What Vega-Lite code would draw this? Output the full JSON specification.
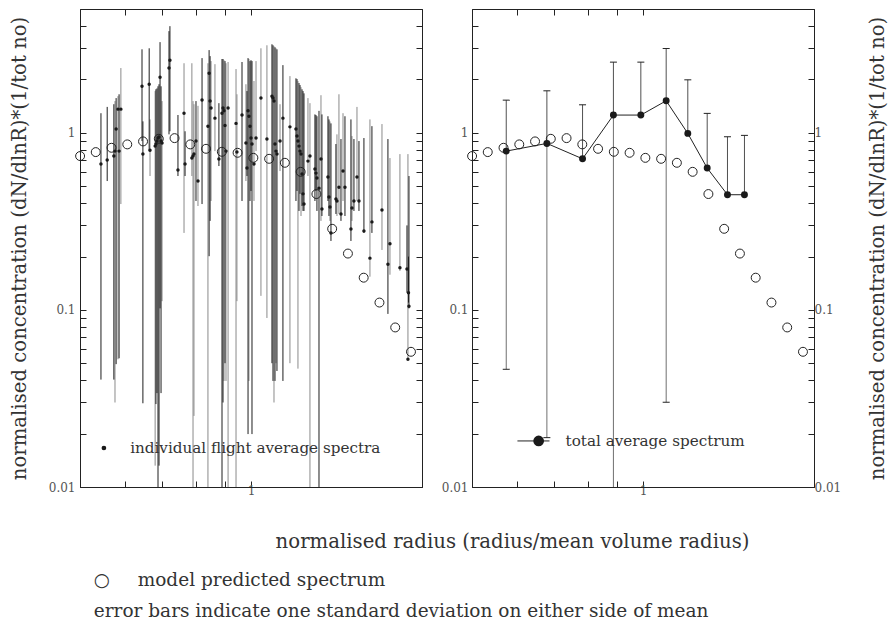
{
  "$schema": "https://vega.github.io/schema/vega-lite/v6.json",
  "background": "white",
  "padding": {"left": 8, "top": 8, "right": 2, "bottom": 2},
  "config": {
    "font": "DejaVu Serif",
    "view": {"stroke": "#222", "strokeWidth": 1},
    "axis": {"domain": true, "domainColor": "#222", "domainWidth": 1, "grid": false, "ticks": true, "tickColor": "#222", "tickWidth": 1, "tickSize": -6, "labelColor": "#555", "labelFont": "DejaVu Serif", "labelFontSize": 12, "titleFont": "DejaVu Serif", "titleFontWeight": "normal", "titleColor": "#333", "titleFontSize": 19.7},
    "title": {"font": "DejaVu Serif", "fontWeight": "normal", "color": "#333", "fontSize": 18.5}
  },
  "datasets": {
    "flights": [
      {"x":0.262,"y":0.666,"lo":0.0404,"hi":1.29,"g":"k"},
      {"x":0.277,"y":0.702,"lo":0.534,"hi":1.40,"g":"k"},
      {"x":0.294,"y":0.739,"lo":0.0404,"hi":1.45,"g":"k"},
      {"x":0.297,"y":0.788,"lo":0.030,"hi":1.51,"g":"g"},
      {"x":0.300,"y":1.05,"lo":0.0494,"hi":1.57,"g":"k"},
      {"x":0.305,"y":1.36,"lo":0.0526,"hi":1.61,"g":"g"},
      {"x":0.308,"y":0.788,"lo":0.0533,"hi":1.65,"g":"k"},
      {"x":0.313,"y":1.36,"lo":0.396,"hi":2.32,"g":"g"},
      {"x":0.378,"y":1.83,"lo":0.898,"hi":2.96,"g":"k"},
      {"x":0.381,"y":0.758,"lo":0.0297,"hi":1.16,"g":"k"},
      {"x":0.403,"y":1.88,"lo":0.788,"hi":3.00,"g":"k"},
      {"x":0.406,"y":0.798,"lo":0.570,"hi":1.19,"g":"g"},
      {"x":0.425,"y":0.841,"lo":0.0132,"hi":1.72,"g":"g"},
      {"x":0.428,"y":0.864,"lo":0.0294,"hi":1.76,"g":"k"},
      {"x":0.432,"y":0.898,"lo":0.0339,"hi":1.78,"g":"k"},
      {"x":0.436,"y":0.934,"lo":0.004,"hi":1.83,"g":"k"},
      {"x":0.440,"y":0.946,"lo":0.0132,"hi":1.88,"g":"k"},
      {"x":0.444,"y":2.06,"lo":0.102,"hi":3.25,"g":"k"},
      {"x":0.448,"y":0.898,"lo":0.0339,"hi":1.83,"g":"k"},
      {"x":0.452,"y":0.875,"lo":0.112,"hi":1.51,"g":"g"},
      {"x":0.481,"y":2.32,"lo":0.98,"hi":3.75,"g":"k"},
      {"x":0.485,"y":2.57,"lo":1.02,"hi":4.00,"g":"k"},
      {"x":0.521,"y":0.616,"lo":0.570,"hi":1.26,"g":"k"},
      {"x":0.550,"y":1.29,"lo":0.272,"hi":2.47,"g":"g"},
      {"x":0.555,"y":0.666,"lo":0.570,"hi":1.02,"g":"k"},
      {"x":0.596,"y":0.739,"lo":0.004,"hi":1.51,"g":"g"},
      {"x":0.590,"y":0.720,"lo":0.570,"hi":2.47,"g":"g"},
      {"x":0.601,"y":0.758,"lo":0.0252,"hi":1.45,"g":"g"},
      {"x":0.612,"y":0.898,"lo":0.412,"hi":1.51,"g":"k"},
      {"x":0.623,"y":0.534,"lo":0.386,"hi":1.42,"g":"g"},
      {"x":0.646,"y":1.53,"lo":0.396,"hi":2.64,"g":"k"},
      {"x":0.681,"y":1.09,"lo":0.004,"hi":2.47,"g":"g"},
      {"x":0.688,"y":2.17,"lo":0.201,"hi":2.93,"g":"k"},
      {"x":0.694,"y":1.51,"lo":0.318,"hi":2.71,"g":"k"},
      {"x":0.700,"y":1.38,"lo":0.412,"hi":2.54,"g":"g"},
      {"x":0.725,"y":1.21,"lo":0.788,"hi":2.44,"g":"g"},
      {"x":0.751,"y":0.711,"lo":0.649,"hi":1.47,"g":"k"},
      {"x":0.772,"y":1.29,"lo":0.004,"hi":2.61,"g":"k"},
      {"x":0.779,"y":1.38,"lo":0.030,"hi":2.61,"g":"k"},
      {"x":0.786,"y":1.33,"lo":0.0397,"hi":2.57,"g":"g"},
      {"x":0.793,"y":1.10,"lo":0.050,"hi":2.54,"g":"k"},
      {"x":0.800,"y":0.788,"lo":0.0397,"hi":2.47,"g":"g"},
      {"x":0.815,"y":1.38,"lo":0.004,"hi":2.51,"g":"g"},
      {"x":0.875,"y":1.13,"lo":0.004,"hi":2.29,"g":"g"},
      {"x":0.882,"y":0.778,"lo":0.112,"hi":1.65,"g":"g"},
      {"x":0.923,"y":1.26,"lo":0.412,"hi":2.51,"g":"k"},
      {"x":0.956,"y":0.875,"lo":0.534,"hi":1.88,"g":"g"},
      {"x":0.965,"y":0.632,"lo":0.570,"hi":1.72,"g":"k"},
      {"x":0.974,"y":1.33,"lo":0.0199,"hi":2.64,"g":"k"},
      {"x":0.982,"y":1.24,"lo":0.0397,"hi":2.61,"g":"g"},
      {"x":0.991,"y":1.09,"lo":0.412,"hi":2.54,"g":"k"},
      {"x":1.000,"y":0.934,"lo":0.469,"hi":2.57,"g":"k"},
      {"x":1.009,"y":0.864,"lo":0.0199,"hi":2.54,"g":"k"},
      {"x":1.027,"y":0.666,"lo":0.412,"hi":1.96,"g":"g"},
      {"x":1.046,"y":0.934,"lo":0.788,"hi":2.54,"g":"g"},
      {"x":1.093,"y":1.57,"lo":0.120,"hi":3.00,"g":"g"},
      {"x":1.153,"y":0.922,"lo":0.090,"hi":3.12,"g":"g"},
      {"x":1.206,"y":1.61,"lo":0.050,"hi":3.16,"g":"k"},
      {"x":1.217,"y":1.57,"lo":0.0397,"hi":3.12,"g":"k"},
      {"x":1.228,"y":1.51,"lo":0.030,"hi":3.08,"g":"g"},
      {"x":1.239,"y":0.864,"lo":0.0397,"hi":3.04,"g":"k"},
      {"x":1.250,"y":0.788,"lo":0.050,"hi":3.00,"g":"g"},
      {"x":1.261,"y":0.758,"lo":0.0452,"hi":2.96,"g":"k"},
      {"x":1.296,"y":0.898,"lo":0.608,"hi":1.45,"g":"g"},
      {"x":1.330,"y":1.21,"lo":0.0397,"hi":2.41,"g":"k"},
      {"x":1.416,"y":1.08,"lo":0.050,"hi":2.09,"g":"g"},
      {"x":1.494,"y":1.05,"lo":0.412,"hi":2.03,"g":"k"},
      {"x":1.508,"y":0.958,"lo":0.469,"hi":2.01,"g":"k"},
      {"x":1.521,"y":0.898,"lo":0.0466,"hi":1.96,"g":"g"},
      {"x":1.535,"y":0.841,"lo":0.362,"hi":1.91,"g":"k"},
      {"x":1.549,"y":0.788,"lo":0.452,"hi":1.86,"g":"k"},
      {"x":1.563,"y":0.758,"lo":0.339,"hi":1.81,"g":"g"},
      {"x":1.577,"y":0.585,"lo":0.386,"hi":1.76,"g":"k"},
      {"x":1.591,"y":0.452,"lo":0.362,"hi":1.72,"g":"k"},
      {"x":1.605,"y":0.396,"lo":0.362,"hi":1.67,"g":"k"},
      {"x":1.663,"y":0.692,"lo":0.570,"hi":1.57,"g":"g"},
      {"x":1.693,"y":0.739,"lo":0.004,"hi":1.47,"g":"g"},
      {"x":1.770,"y":0.624,"lo":0.412,"hi":1.27,"g":"k"},
      {"x":1.786,"y":0.592,"lo":0.469,"hi":1.26,"g":"k"},
      {"x":1.802,"y":0.556,"lo":0.362,"hi":1.24,"g":"k"},
      {"x":1.835,"y":0.487,"lo":0.004,"hi":1.33,"g":"k"},
      {"x":1.868,"y":0.711,"lo":0.318,"hi":1.63,"g":"g"},
      {"x":1.884,"y":0.371,"lo":0.339,"hi":1.27,"g":"k"},
      {"x":1.988,"y":0.563,"lo":0.412,"hi":1.24,"g":"k"},
      {"x":2.006,"y":0.434,"lo":0.339,"hi":1.19,"g":"k"},
      {"x":2.024,"y":0.381,"lo":0.318,"hi":1.16,"g":"g"},
      {"x":2.042,"y":0.272,"lo":0.245,"hi":1.13,"g":"k"},
      {"x":2.135,"y":0.423,"lo":0.348,"hi":0.864,"g":"k"},
      {"x":2.154,"y":0.412,"lo":0.339,"hi":0.98,"g":"g"},
      {"x":2.193,"y":0.493,"lo":0.348,"hi":1.65,"g":"g"},
      {"x":2.233,"y":0.348,"lo":0.318,"hi":0.922,"g":"k"},
      {"x":2.274,"y":0.608,"lo":0.412,"hi":1.29,"g":"g"},
      {"x":2.314,"y":0.493,"lo":0.339,"hi":1.24,"g":"k"},
      {"x":2.441,"y":0.286,"lo":0.245,"hi":1.19,"g":"k"},
      {"x":2.463,"y":0.376,"lo":0.318,"hi":0.958,"g":"g"},
      {"x":2.507,"y":0.412,"lo":0.362,"hi":0.922,"g":"k"},
      {"x":2.576,"y":0.563,"lo":0.412,"hi":1.40,"g":"g"},
      {"x":2.622,"y":0.412,"lo":0.362,"hi":0.898,"g":"k"},
      {"x":2.741,"y":0.279,"lo":0.272,"hi":0.934,"g":"k"},
      {"x":2.892,"y":0.196,"lo":0.154,"hi":1.19,"g":"g"},
      {"x":2.944,"y":0.314,"lo":0.272,"hi":1.09,"g":"k"},
      {"x":3.220,"y":0.366,"lo":0.218,"hi":1.12,"g":"g"},
      {"x":3.396,"y":0.181,"lo":0.0949,"hi":0.922,"g":"k"},
      {"x":3.458,"y":0.236,"lo":0.158,"hi":0.720,"g":"g"},
      {"x":3.780,"y":0.173,"lo":0.166,"hi":0.758,"g":"g"},
      {"x":4.025,"y":0.170,"lo":0.125,"hi":0.30,"g":"k"},
      {"x":4.060,"y":0.0526,"lo":0.052,"hi":0.758,"g":"g"},
      {"x":4.080,"y":0.125,"lo":0.11,"hi":0.20,"g":"k"},
      {"x":4.097,"y":0.105,"lo":0.102,"hi":0.570,"g":"k"}
    ],
    "model": [
      {"x":0.2175,"y":0.739},{"x":0.2501,"y":0.778},{"x":0.2879,"y":0.823},{"x":0.3314,"y":0.860},
      {"x":0.3815,"y":0.894},{"x":0.4391,"y":0.925},{"x":0.5054,"y":0.933},{"x":0.5817,"y":0.860},
      {"x":0.6696,"y":0.812},{"x":0.7708,"y":0.781},{"x":0.8873,"y":0.771},{"x":1.0214,"y":0.722},
      {"x":1.1757,"y":0.713},{"x":1.3533,"y":0.677},{"x":1.5578,"y":0.602},{"x":1.7932,"y":0.451},
      {"x":2.0641,"y":0.287},{"x":2.376,"y":0.208},{"x":2.735,"y":0.152},{"x":3.1483,"y":0.110},
      {"x":3.624,"y":0.0796},{"x":4.1716,"y":0.058}
    ],
    "total": [
      {"x":0.295,"y":0.788,"hi":1.529,"lo":0.0462},
      {"x":0.424,"y":0.871,"hi":1.726,"lo":0.0190},
      {"x":0.583,"y":0.713,"hi":1.439,"lo":null},
      {"x":0.768,"y":1.259,"hi":2.506,"lo":0.004},
      {"x":0.981,"y":1.259,"hi":2.506,"lo":null},
      {"x":1.230,"y":1.516,"hi":2.993,"lo":0.0301},
      {"x":1.492,"y":0.992,"hi":1.991,"lo":null},
      {"x":1.774,"y":0.632,"hi":1.287,"lo":null},
      {"x":2.126,"y":0.447,"hi":0.949,"lo":null},
      {"x":2.474,"y":0.447,"hi":0.967,"lo":null}
    ],
    "legL": [{"x":0.269,"tx":0.340,"y":0.0166,"label":"individual flight average spectra"}],
    "legR": [{"x":0.326,"x2":0.434,"dx":0.394,"tx":0.501,"y":0.0182,"label":"total average spectrum"}]
  },
  "title": {
    "text": ["\u2009○\u2003\u2002model predicted spectrum", "error bars indicate one standard deviation on either side of mean"],
    "orient": "bottom", "anchor": "start", "frame": "bounds", "align": "left",
    "dx": 85, "offset": 20, "lineHeight": 31
  },
  "spacing": 50,
  "bounds": "flush",
  "hconcat": [
    {
      "width": 342, "height": 478,
      "resolve": {"axis": {"x": "independent", "y": "independent"}},
      "layer": [
        {
          "data": {"name": "flights"},
          "transform": [{"filter": "datum.g == 'g'"}],
          "mark": {"type": "rule", "clip": true, "strokeWidth": 1, "color": "#8a8a8a"},
          "encoding": {
            "x": {"field": "x", "type": "quantitative", "scale": {"type": "log", "domain": [0.2173, 4.603], "nice": false},
                  "axis": {"orient": "bottom", "values": [0.325, 0.45, 0.612, 0.79, 1], "labelExpr": "datum.value == 1 ? '1' : ''", "labelPadding": 4,
                           "title": "normalised radius (radius/mean volume radius)", "titleX": 432, "titlePadding": 35}},
            "y": {"field": "lo", "type": "quantitative", "scale": {"type": "log", "domain": [0.01, 5], "nice": false},
                  "axis": {"orient": "left", "values": [0.01,0.02,0.03,0.04,0.05,0.06,0.07,0.08,0.09,0.1,0.2,0.3,0.4,0.5,0.6,0.7,0.8,0.9,1,2,3,4], "format": "~g",
                           "labelExpr": "datum.value == 1 || datum.value == 0.1 || datum.value == 0.01 ? datum.label : ''", "labelPadding": 11,
                           "title": "normalised concentration (dN/dlnR)*(1/tot no)", "titlePadding": 19}},
            "y2": {"field": "hi"}
          }
        },
        {
          "data": {"name": "flights"},
          "transform": [{"filter": "datum.g == 'k'"}],
          "mark": {"type": "rule", "clip": true, "strokeWidth": 1, "color": "#1e1e1e"},
          "encoding": {
            "x": {"field": "x", "type": "quantitative", "scale": {"type": "log", "domain": [0.2173, 4.603], "nice": false},
                  "axis": {"orient": "top", "values": [0.325, 0.45, 0.612, 0.79, 1], "labels": false, "title": null}},
            "y": {"field": "lo", "type": "quantitative", "scale": {"type": "log", "domain": [0.01, 5], "nice": false},
                  "axis": {"orient": "right", "values": [0.01,0.02,0.03,0.04,0.05,0.06,0.07,0.08,0.09,0.1,0.2,0.3,0.4,0.5,0.6,0.7,0.8,0.9,1,2,3,4], "labels": false, "title": null}},
            "y2": {"field": "hi"}
          }
        },
        {
          "data": {"name": "flights"},
          "mark": {"type": "point", "shape": "circle", "filled": true, "color": "#1a1a1a", "size": 12, "opacity": 1},
          "encoding": {
            "x": {"field": "x", "type": "quantitative", "scale": {"type": "log", "domain": [0.2173, 4.603], "nice": false}, "axis": null},
            "y": {"field": "y", "type": "quantitative", "scale": {"type": "log", "domain": [0.01, 5], "nice": false}, "axis": null}
          }
        },
        {
          "data": {"name": "model"},
          "mark": {"type": "point", "shape": "circle", "filled": false, "stroke": "#222", "strokeWidth": 1, "size": 80, "opacity": 1},
          "encoding": {
            "x": {"field": "x", "type": "quantitative", "scale": {"type": "log", "domain": [0.2173, 4.603], "nice": false}, "axis": null},
            "y": {"field": "y", "type": "quantitative", "scale": {"type": "log", "domain": [0.01, 5], "nice": false}, "axis": null}
          }
        },
        {
          "data": {"name": "legL"},
          "mark": {"type": "point", "shape": "circle", "filled": true, "color": "#1a1a1a", "size": 22, "opacity": 1},
          "encoding": {
            "x": {"field": "x", "type": "quantitative", "scale": {"type": "log", "domain": [0.2173, 4.603], "nice": false}, "axis": null},
            "y": {"field": "y", "type": "quantitative", "scale": {"type": "log", "domain": [0.01, 5], "nice": false}, "axis": null}
          }
        },
        {
          "data": {"name": "legL"},
          "mark": {"type": "text", "align": "left", "baseline": "middle", "fontSize": 15.2, "color": "#333", "font": "DejaVu Serif"},
          "encoding": {
            "x": {"field": "tx", "type": "quantitative", "scale": {"type": "log", "domain": [0.2173, 4.603], "nice": false}, "axis": null},
            "y": {"field": "y", "type": "quantitative", "scale": {"type": "log", "domain": [0.01, 5], "nice": false}, "axis": null},
            "text": {"field": "label"}
          }
        }
      ]
    },
    {
      "width": 342, "height": 478,
      "resolve": {"axis": {"x": "independent", "y": "independent"}},
      "layer": [
        {
          "data": {"name": "total"},
          "transform": [{"filter": "isValid(datum.lo)"}],
          "mark": {"type": "rule", "clip": true, "color": "#707070", "strokeWidth": 1},
          "encoding": {
            "x": {"field": "x", "type": "quantitative", "scale": {"type": "log", "domain": [0.2173, 4.603], "nice": false},
                  "axis": {"orient": "bottom", "values": [0.325, 0.45, 0.612, 0.79, 1], "labelExpr": "datum.value == 1 ? '1' : ''", "labelPadding": 4, "title": null}},
            "y": {"field": "lo", "type": "quantitative", "scale": {"type": "log", "domain": [0.01, 5], "nice": false},
                  "axis": {"orient": "left", "values": [0.01,0.02,0.03,0.04,0.05,0.06,0.07,0.08,0.09,0.1,0.2,0.3,0.4,0.5,0.6,0.7,0.8,0.9,1,2,3,4], "format": "~g",
                           "labelExpr": "datum.value == 1 || datum.value == 0.1 || datum.value == 0.01 ? datum.label : ''", "labelPadding": 10, "title": null}},
            "y2": {"field": "y"}
          }
        },
        {
          "data": {"name": "total"},
          "mark": {"type": "rule", "clip": true, "color": "#505050", "strokeWidth": 1},
          "encoding": {
            "x": {"field": "x", "type": "quantitative", "scale": {"type": "log", "domain": [0.2173, 4.603], "nice": false},
                  "axis": {"orient": "top", "values": [0.325, 0.45, 0.612, 0.79, 1], "labels": false, "title": null}},
            "y": {"field": "y", "type": "quantitative", "scale": {"type": "log", "domain": [0.01, 5], "nice": false},
                  "axis": {"orient": "right", "values": [0.01,0.02,0.03,0.04,0.05,0.06,0.07,0.08,0.09,0.1,0.2,0.3,0.4,0.5,0.6,0.7,0.8,0.9,1,2,3,4], "format": "~g",
                           "labelExpr": "datum.value == 1 || datum.value == 0.1 || datum.value == 0.01 ? datum.label : ''", "labelPadding": 6,
                           "title": "normalised concentration (dN/dlnR)*(1/tot no)", "titleAngle": 270, "titlePadding": 47}},
            "y2": {"field": "hi"}
          }
        },
        {
          "data": {"name": "total"},
          "mark": {"type": "tick", "orient": "horizontal", "size": 7, "thickness": 1, "color": "#222", "opacity": 1},
          "encoding": {
            "x": {"field": "x", "type": "quantitative", "scale": {"type": "log", "domain": [0.2173, 4.603], "nice": false}, "axis": null},
            "y": {"field": "hi", "type": "quantitative", "scale": {"type": "log", "domain": [0.01, 5], "nice": false}, "axis": null}
          }
        },
        {
          "data": {"name": "total"},
          "transform": [{"filter": "isValid(datum.lo) && datum.lo > 0.01"}],
          "mark": {"type": "tick", "orient": "horizontal", "size": 7, "thickness": 1, "color": "#222", "opacity": 1},
          "encoding": {
            "x": {"field": "x", "type": "quantitative", "scale": {"type": "log", "domain": [0.2173, 4.603], "nice": false}, "axis": null},
            "y": {"field": "lo", "type": "quantitative", "scale": {"type": "log", "domain": [0.01, 5], "nice": false}, "axis": null}
          }
        },
        {
          "data": {"name": "total"},
          "mark": {"type": "line", "color": "#222", "strokeWidth": 1},
          "encoding": {
            "x": {"field": "x", "type": "quantitative", "scale": {"type": "log", "domain": [0.2173, 4.603], "nice": false}, "axis": null},
            "y": {"field": "y", "type": "quantitative", "scale": {"type": "log", "domain": [0.01, 5], "nice": false}, "axis": null}
          }
        },
        {
          "data": {"name": "total"},
          "mark": {"type": "point", "shape": "circle", "filled": true, "color": "#1a1a1a", "size": 48, "opacity": 1},
          "encoding": {
            "x": {"field": "x", "type": "quantitative", "scale": {"type": "log", "domain": [0.2173, 4.603], "nice": false}, "axis": null},
            "y": {"field": "y", "type": "quantitative", "scale": {"type": "log", "domain": [0.01, 5], "nice": false}, "axis": null}
          }
        },
        {
          "data": {"name": "model"},
          "mark": {"type": "point", "shape": "circle", "filled": false, "stroke": "#222", "strokeWidth": 1, "size": 80, "opacity": 1},
          "encoding": {
            "x": {"field": "x", "type": "quantitative", "scale": {"type": "log", "domain": [0.2173, 4.603], "nice": false}, "axis": null},
            "y": {"field": "y", "type": "quantitative", "scale": {"type": "log", "domain": [0.01, 5], "nice": false}, "axis": null}
          }
        },
        {
          "data": {"name": "legR"},
          "mark": {"type": "rule", "color": "#222", "strokeWidth": 1},
          "encoding": {
            "x": {"field": "x", "type": "quantitative", "scale": {"type": "log", "domain": [0.2173, 4.603], "nice": false}, "axis": null},
            "x2": {"field": "x2"},
            "y": {"field": "y", "type": "quantitative", "scale": {"type": "log", "domain": [0.01, 5], "nice": false}, "axis": null}
          }
        },
        {
          "data": {"name": "legR"},
          "mark": {"type": "point", "shape": "circle", "filled": true, "color": "#1a1a1a", "size": 115, "opacity": 1},
          "encoding": {
            "x": {"field": "dx", "type": "quantitative", "scale": {"type": "log", "domain": [0.2173, 4.603], "nice": false}, "axis": null},
            "y": {"field": "y", "type": "quantitative", "scale": {"type": "log", "domain": [0.01, 5], "nice": false}, "axis": null}
          }
        },
        {
          "data": {"name": "legR"},
          "mark": {"type": "text", "align": "left", "baseline": "middle", "fontSize": 15.2, "color": "#333", "font": "DejaVu Serif"},
          "encoding": {
            "x": {"field": "tx", "type": "quantitative", "scale": {"type": "log", "domain": [0.2173, 4.603], "nice": false}, "axis": null},
            "y": {"field": "y", "type": "quantitative", "scale": {"type": "log", "domain": [0.01, 5], "nice": false}, "axis": null},
            "text": {"field": "label"}
          }
        }
      ]
    }
  ]
}
